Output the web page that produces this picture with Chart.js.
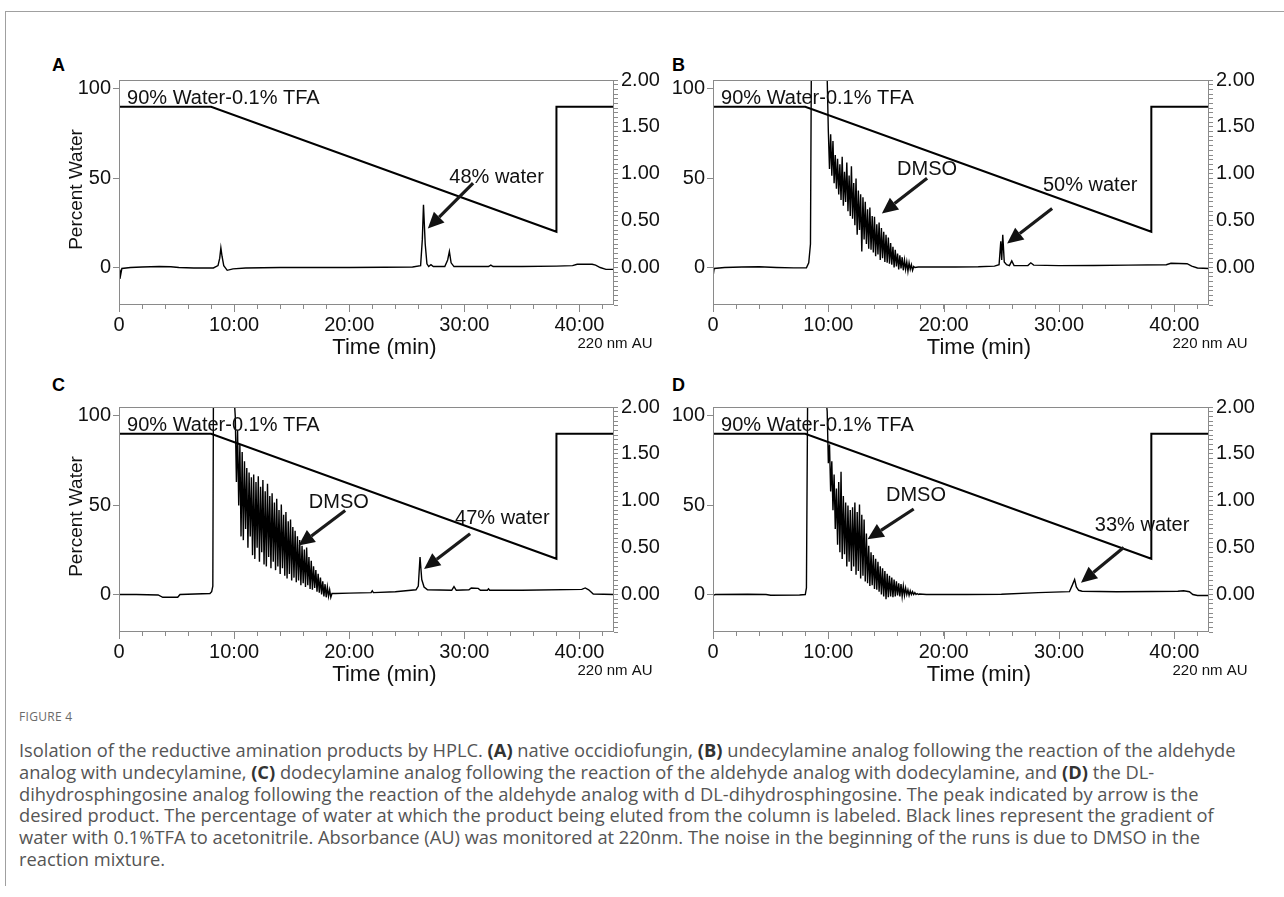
<!DOCTYPE html>
<html>
<head>
<meta charset="utf-8">
<script src="https://cdn.jsdelivr.net/npm/chart.js@4.4.1/dist/chart.umd.min.js"></script>
<style>
  body { margin:0; background:#fff; width:1284px; height:897px; position:relative; overflow:hidden; }
  #frame { position:absolute; left:5px; top:11px; width:1279px; height:874px; border-top:1px solid #a0a0a0; border-left:1px solid #a0a0a0; }
  canvas.panel { position:absolute; }
  .letter { position:absolute; font:bold 18px "Liberation Sans", Arial, sans-serif; line-height:18px; color:#000; }
  #figlabel { position:absolute; left:19px; top:710px; font:12px "Open Sans", sans-serif; line-height:14px; color:#6a6a6a; letter-spacing:0.3px; }
  #caption { position:absolute; left:19px; top:739px; font-family:"Open Sans", sans-serif; font-size:15px; line-height:21.8px; color:#555; white-space:nowrap; }
  #caption b { color:#333; }
</style>
</head>
<body>
<div id="frame"></div>
<div class="letter" style="left:52px; top:56px;">A</div>
<div class="letter" style="left:672px; top:56px;">B</div>
<div class="letter" style="left:52px; top:376px;">C</div>
<div class="letter" style="left:672px; top:376px;">D</div>
<canvas id="panelA" class="panel" width="632" height="300" style="left:40px; top:60px;"></canvas>
<canvas id="panelB" class="panel" width="612" height="300" style="left:672px; top:60px;"></canvas>
<canvas id="panelC" class="panel" width="632" height="300" style="left:40px; top:387px;"></canvas>
<canvas id="panelD" class="panel" width="612" height="300" style="left:672px; top:387px;"></canvas>
<div id="figlabel">FIGURE 4</div>
<div id="caption">
  <div><span id="firstLine">Isolation of the reductive amination products by HPLC. <b>(A)</b> native occidiofungin, <b>(B)</b> undecylamine analog following the reaction of the aldehyde</span></div>
  <div>analog with undecylamine, <b>(C)</b> dodecylamine analog following the reaction of the aldehyde analog with dodecylamine, and <b>(D)</b> the DL-</div>
  <div>dihydrosphingosine analog following the reaction of the aldehyde analog with d DL-dihydrosphingosine. The peak indicated by arrow is the</div>
  <div>desired product. The percentage of water at which the product being eluted from the column is labeled. Black lines represent the gradient of</div>
  <div>water with 0.1%TFA to acetonitrile. Absorbance (AU) was monitored at 220nm. The noise in the beginning of the runs is due to DMSO in the</div>
  <div>reaction mixture.</div>
</div>
<script>
// gradient program (percent water) – same for every run
const gradTime = [0, 8, 38, 38, 43];
const gradPct = [90, 90, 20, 90, 90];

// axis tick labels
const timeTickLabels = ['0', '10:00', '20:00', '30:00', '40:00'];
const auTickLabels = ['0.00', '0.50', '1.00', '1.50', '2.00'];

// absorbance traces, [time (min), AU]
const traceA = [
  [0,-0.02],[0.08,-0.12],[0.25,-0.01],[1,0],[2,0.005],[3.5,0.01],[4.5,0.008],[5.2,0],[6.5,-0.005],[8.2,-0.005],
  [8.6,0.02],[8.75,0.1],[8.85,0.21],[8.95,0.12],[9.1,0.02],[9.4,-0.03],[9.9,-0.015],[11,-0.005],[14,0],[17,0],
  [20,0],[23,0.003],[25.5,0.005],[26.2,0.02],[26.35,0.3],[26.45,0.67],[26.6,0.25],[26.75,0.04],[26.9,0.01],[27.1,0.03],
  [27.3,0.01],[28.3,0.01],[28.55,0.08],[28.7,0.17],[28.85,0.05],[29.1,0.01],[30,0.01],[32.1,0.01],[32.3,0.025],[32.5,0.01],
  [35,0.01],[38,0.015],[39.4,0.02],[39.8,0.035],[41.1,0.035],[41.4,0.025],[41.8,0],[42.3,-0.02],[43,-0.02]
];

const traceB = [
  [0,-0.1],[0.1,-0.01],[1,0],[2.5,0.005],[4,0.008],[5.5,0],[7,-0.004],[8.1,-0.003],[8.3,0.05],[8.45,0.25],[8.6,4],[9.7,4],[9.85,2.3],[10.0,1.45],
  [10.1,1.05],[10.2,1.42],[10.3,0.98],[10.4,1.35],[10.5,0.9],[10.6,1.2],[10.7,0.84],[10.8,1.16],[10.9,0.78],[11.0,1.1],
  [11.1,0.72],[11.2,1.18],[11.3,0.66],[11.4,1.02],[11.5,0.7],[11.6,1.12],[11.7,0.6],[11.8,0.98],[11.9,0.55],[12.0,1.08],
  [12.1,0.52],[12.2,0.9],[12.3,0.45],[12.4,0.95],[12.5,0.35],[12.6,0.82],[12.7,0.4],[12.8,0.78],[12.9,0.17],[13.0,0.75],
  [13.1,0.3],[13.2,0.7],[13.3,0.25],[13.4,0.62],[13.5,0.2],[13.6,0.64],[13.7,0.19],[13.8,0.55],[13.9,0.16],[14.0,0.54],
  [14.1,0.12],[14.2,0.46],[14.3,0.14],[14.4,0.48],[14.5,0.08],[14.6,0.42],[14.7,0.1],[14.8,0.38],[14.9,0.06],[15.0,0.35],
  [15.1,0.05],[15.2,0.32],[15.3,0.04],[15.4,0.26],[15.5,0.03],[15.6,0.22],[15.7,0],[15.8,0.19],[15.9,0.01],[16.0,0.15],
  [16.1,-0.02],[16.2,0.13],[16.3,-0.01],[16.4,0.11],[16.5,-0.03],[16.6,0.08],[16.7,-0.02],[16.8,0.06],[16.9,-0.04],[17.0,0.05],
  [17.1,-0.02],[17.2,0.03],[17.3,-0.03],[17.4,0.01],[17.5,0],
  [17.8,0.005],[19,0.005],[21,0.005],[23,0.008],[24.4,0.015],[24.8,0.03],[24.95,0.28],[25.03,0.08],[25.12,0.35],[25.25,0.06],
  [25.45,0.03],[25.7,0.02],[25.9,0.07],[26.1,0.02],[27.3,0.02],[27.55,0.05],[27.8,0.025],[30,0.02],[33,0.022],[36,0.025],
  [39.3,0.03],[39.7,0.045],[41.1,0.04],[41.5,0.015],[42,-0.005],[43,-0.01]
];

const traceC = [
  [0,0],[1.5,0],[3.4,-0.005],[3.8,-0.03],[5.1,-0.03],[5.3,0],[7.9,0.01],[8.05,0.03],[8.15,0.09],[8.25,4],[9.8,4],[10.0,2.1],
  [10.1,1.9],[10.2,1.2],[10.3,1.75],[10.4,0.95],[10.5,1.6],[10.6,0.62],[10.7,1.52],[10.8,0.58],[10.9,1.42],[11.0,0.7],
  [11.1,1.35],[11.2,0.5],[11.3,1.3],[11.4,0.62],[11.5,1.25],[11.6,0.42],[11.7,1.28],[11.8,0.38],[11.9,1.2],[12.0,0.5],
  [12.1,1.26],[12.2,0.35],[12.3,1.15],[12.4,0.45],[12.5,1.22],[12.6,0.32],[12.7,1.1],[12.8,0.3],[12.9,1.18],[13.0,0.4],
  [13.1,1.05],[13.2,0.28],[13.3,1.08],[13.4,0.35],[13.5,0.98],[13.6,0.26],[13.7,1.02],[13.8,0.3],[13.9,0.9],[14.0,0.22],
  [14.1,0.96],[14.2,0.28],[14.3,0.85],[14.4,0.2],[14.5,0.88],[14.6,0.17],[14.7,0.78],[14.8,0.22],[14.9,0.8],[15.0,0.15],
  [15.1,0.72],[15.2,0.18],[15.3,0.68],[15.4,0.13],[15.5,0.62],[15.6,0.15],[15.7,0.58],[15.8,0.1],[15.9,0.52],[16.0,0.12],
  [16.1,0.48],[16.2,0.08],[16.3,0.5],[16.4,0.1],[16.5,0.4],[16.6,0.06],[16.7,0.36],[16.8,0.05],[16.9,0.3],[17.0,0.07],
  [17.1,0.26],[17.2,0.03],[17.3,0.22],[17.4,0.02],[17.5,0.18],[17.6,0],[17.7,0.14],[17.8,-0.02],[17.9,0.11],[18.0,-0.03],
  [18.1,0.08],[18.2,-0.02],[18.3,0.05],[18.4,-0.03],[18.5,0.01],
  [18.8,0.01],[20,0.015],[21.9,0.02],[22.0,0.04],[22.1,0.02],[24,0.03],[25.8,0.05],[26.0,0.09],[26.15,0.4],[26.3,0.16],
  [26.5,0.08],[26.8,0.05],[28.9,0.045],[29.1,0.085],[29.3,0.045],[30.4,0.05],[30.6,0.07],[31.2,0.065],[31.4,0.045],[32.0,0.045],
  [32.1,0.06],[32.2,0.045],[35,0.045],[40.2,0.055],[40.5,0.07],[40.8,0.05],[41.2,0.005],[43,0]
];

const traceD = [
  [0,-0.01],[0.2,0],[3,0.003],[4.6,0],[5,-0.008],[7.5,-0.005],[8.0,0],[8.1,0.07],[8.3,4],[9.65,4],[9.8,2.1],
  [9.9,1.95],[10.0,1.4],[10.1,1.6],[10.2,1.1],[10.3,1.42],[10.4,0.9],[10.5,1.28],[10.6,0.7],[10.7,1.13],[10.8,0.53],
  [10.9,1.2],[11.0,0.45],[11.1,1.31],[11.2,0.38],[11.3,1.05],[11.4,0.43],[11.5,0.98],[11.6,0.3],[11.7,0.95],[11.8,0.35],
  [11.9,0.9],[12.0,0.25],[12.1,0.93],[12.2,0.3],[12.3,0.98],[12.4,0.21],[12.5,0.88],[12.6,0.25],[12.7,0.96],[12.8,0.17],
  [12.9,0.85],[13.0,0.2],[13.1,0.8],[13.2,0.14],[13.3,0.65],[13.4,0.12],[13.5,0.52],[13.6,0.09],[13.7,0.45],[13.8,0.1],
  [13.9,0.42],[14.0,0.06],[14.1,0.38],[14.2,0.05],[14.3,0.35],[14.4,0.03],[14.5,0.3],[14.6,0],[14.7,0.28],[14.8,-0.02],
  [14.9,0.25],[15.0,-0.05],[15.1,0.22],[15.2,-0.03],[15.3,0.2],[15.4,-0.02],[15.5,0.18],[15.6,-0.03],[15.7,0.16],[15.8,-0.02],
  [15.9,0.14],[16.0,-0.01],[16.1,0.12],[16.2,-0.02],[16.3,0.11],[16.4,-0.02],[16.5,0.09],[16.6,-0.01],[16.7,0.07],[16.8,0],
  [16.9,0.05],[17.0,-0.01],[17.1,0.04],[17.2,0],[17.3,0.03],[17.4,0],[17.5,0.02],[17.6,0],[17.7,0.01],[17.8,0],[17.9,0.005],
  [18.5,0],[22,0],[25,0.003],[28.2,0.02],[30.9,0.03],[31.15,0.1],[31.35,0.16],[31.5,0.08],[31.7,0.045],[32,0.035],
  [35,0.03],[38,0.032],[40.3,0.035],[40.8,0.04],[41.3,0.03],[41.6,0],[42,-0.01],[43,-0.01]
];

// annotation text (time, percent water) and arrows
const notesA = [{ text: '48% water', t: 32.8, pct: 50.3, from: [30.76, 47.2], to: [26.83, 21.9] }];
const notesB = [
  { text: 'DMSO', t: 18.56, pct: 54.7, from: [18.56, 50], to: [14.64, 30.3] },
  { text: '50% water', t: 32.7, pct: 46.2, from: [29.4, 33.1], to: [25.5, 13.5] }
];
const notesC = [
  { text: 'DMSO', t: 19.1, pct: 51.7, from: [19.65, 47], to: [15.6, 27.4] },
  { text: '47% water', t: 33.3, pct: 42.4, from: [30.5, 34], to: [26.5, 14.3] }
];
const notesD = [
  { text: 'DMSO', t: 17.6, pct: 55.3, from: [17.4, 47.9], to: [13.4, 31] },
  { text: '33% water', t: 37.2, pct: 38.5, from: [35.6, 26.3], to: [31.9, 6.6] }
];

const FONT = '"Liberation Sans", Arial, sans-serif';
const AXIS_GREY = '#8a8a8a';

function drawArrow(ctx, x1, y1, x2, y2) {
  const ang = Math.atan2(y2 - y1, x2 - x1);
  const head = 16, half = 7.5;
  const bx = x2 - head * Math.cos(ang), by = y2 - head * Math.sin(ang);
  ctx.lineWidth = 3.2;
  ctx.beginPath(); ctx.moveTo(x1, y1); ctx.lineTo(bx, by); ctx.stroke();
  ctx.beginPath();
  ctx.moveTo(x2, y2);
  ctx.lineTo(bx + half * Math.sin(ang), by - half * Math.cos(ang));
  ctx.lineTo(bx - half * Math.sin(ang), by + half * Math.cos(ang));
  ctx.closePath(); ctx.fill();
}

const decor = {
  id: 'decor',
  afterDraw(chart, args, opts) {
    const { ctx, chartArea: a, scales } = chart;
    const x = scales.x, yp = scales.yPct;
    ctx.save();
    ctx.strokeStyle = AXIS_GREY; ctx.lineWidth = 1;
    ctx.strokeRect(a.left + 0.5, a.top + 0.5, a.right - a.left - 1, a.bottom - a.top - 1);
    // longer ticks at the labelled minutes
    ctx.beginPath();
    timeTickLabels.forEach((lab, i) => {
      const px = Math.round(x.getPixelForValue(i * 10)) + 0.5;
      ctx.moveTo(px, a.bottom); ctx.lineTo(px, a.bottom + 7);
    });
    ctx.stroke();

    ctx.fillStyle = '#111'; ctx.strokeStyle = '#1a1a1a';
    ctx.textBaseline = 'middle';
    ctx.font = '20px ' + FONT;
    ctx.textAlign = 'left';
    ctx.fillText('90% Water-0.1% TFA', x.getPixelForValue(0.7), yp.getPixelForValue(94.5));

    ctx.textAlign = 'center';
    opts.notes.forEach(n => {
      ctx.fillText(n.text, x.getPixelForValue(n.t), yp.getPixelForValue(n.pct));
      drawArrow(ctx, x.getPixelForValue(n.from[0]), yp.getPixelForValue(n.from[1]),
        x.getPixelForValue(n.to[0]), yp.getPixelForValue(n.to[1]));
    });

    // axis titles
    ctx.font = '22px ' + FONT;
    ctx.fillText('Time (min)', (a.left + a.right) / 2 + 18, a.bottom + 43);
    ctx.font = '15px ' + FONT;
    ctx.fillText('220 nm AU', a.right + 1, a.bottom + 39);
    if (opts.yTitle) {
      ctx.save();
      ctx.translate(a.left - 42, (a.top + a.bottom) / 2 - 3);
      ctx.rotate(-Math.PI / 2);
      ctx.font = '19px ' + FONT;
      ctx.fillText('Percent Water', 0, 0);
      ctx.restore();
    }
    ctx.restore();
  }
};

function pts(trace) { return trace.map(p => ({ x: p[0], y: p[1] })); }

function makePanel(id, trace, notes, leftW, rightW, yTitle) {
  new Chart(document.getElementById(id), {
    type: 'line',
    data: {
      datasets: [
        { data: gradTime.map((t, i) => ({ x: t, y: gradPct[i] })), yAxisID: 'yPct',
          borderColor: '#000', borderWidth: 2, pointRadius: 0, tension: 0 },
        { data: pts(trace), yAxisID: 'yAU',
          borderColor: '#000', borderWidth: 1.4, pointRadius: 0, tension: 0 }
      ]
    },
    options: {
      responsive: false, animation: false, devicePixelRatio: 1,
      layout: { padding: { top: 20, left: 0, right: 0, bottom: 0 } },
      plugins: { legend: { display: false }, tooltip: { enabled: false }, decor: { notes, yTitle } },
      scales: {
        x: {
          type: 'linear', min: 0, max: 43,
          border: { display: false },
          grid: { drawOnChartArea: false, drawTicks: true, tickLength: 4, color: AXIS_GREY },
          ticks: {
            stepSize: 2, includeBounds: false, autoSkip: false, maxRotation: 0, padding: 4,
            color: '#111', font: { family: FONT, size: 20 },
            callback: v => (v % 10 === 0 ? timeTickLabels[v / 10] : '')
          },
          afterFit: s => { s.height = 55; }
        },
        yPct: {
          type: 'linear', position: 'left', min: -21, max: 105,
          border: { display: false },
          grid: { drawOnChartArea: false, drawTicks: true, tickLength: 6, color: AXIS_GREY },
          ticks: {
            stepSize: 50, includeBounds: false, autoSkip: false, padding: 2,
            color: '#111', font: { family: FONT, size: 20 },
            callback: v => String(v)
          },
          afterFit: s => { s.width = leftW; }
        },
        yAU: {
          type: 'linear', position: 'right', min: -0.4, max: 2.0,
          border: { display: false },
          grid: { drawOnChartArea: false, drawTicks: true, tickLength: 4, color: AXIS_GREY },
          ticks: {
            stepSize: 0.05, includeBounds: false, autoSkip: false, padding: 3,
            color: '#111', font: { family: FONT, size: 20 },
            callback: v => {
              const k = Math.round(v * 2);
              return (Math.abs(v * 2 - k) < 1e-6 && k >= 0) ? auTickLabels[k] : '';
            }
          },
          afterFit: s => { s.width = rightW; }
        }
      }
    },
    plugins: [decor]
  });
}

makePanel('panelA', traceA, notesA, 79, 58, true);
makePanel('panelB', traceB, notesB, 41, 75, false);
makePanel('panelC', traceC, notesC, 79, 58, true);
makePanel('panelD', traceD, notesD, 41, 75, false);

// fit caption width to the printed line length
const firstLine = document.getElementById('firstLine');
const w = firstLine.getBoundingClientRect().width;
document.getElementById('caption').style.fontSize = (15 * 1217 / w).toFixed(2) + 'px';
</script>
</body>
</html>
